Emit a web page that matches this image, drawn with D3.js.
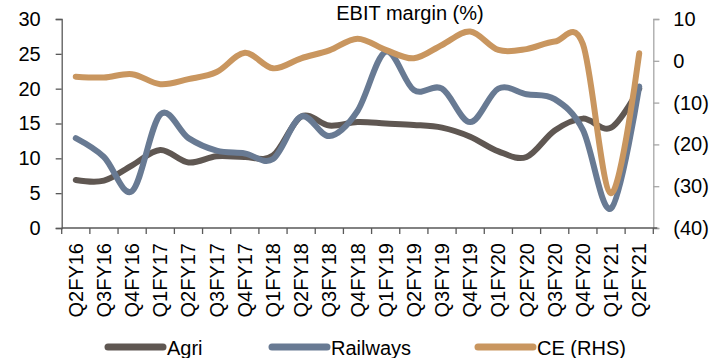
<!DOCTYPE html>
<html>
<head>
<meta charset="utf-8">
<script src="https://cdn.jsdelivr.net/npm/d3@7"></script>
<style>
  html, body { margin: 0; padding: 0; background: #fff; }
  svg text { font-family: Arial, "Liberation Sans", sans-serif; fill: #000; }
</style>
</head>
<body>
<svg id="chart" width="723" height="358"></svg>
<script>
// Quarterly EBIT margin by segment (%)
const categories = ["Q2FY16","Q3FY16","Q4FY16","Q1FY17","Q2FY17","Q3FY17","Q4FY17",
  "Q1FY18","Q2FY18","Q3FY18","Q4FY18","Q1FY19","Q2FY19","Q3FY19","Q4FY19",
  "Q1FY20","Q2FY20","Q3FY20","Q4FY20","Q1FY21","Q2FY21"];
const agri     = [6.9, 6.8, 9.0, 11.2, 9.4, 10.3, 10.2, 10.4, 16.0, 14.7, 15.2, 15.0, 14.8, 14.4, 13.1, 11.0, 10.2, 14.0, 15.7, 14.4, 20.0];
const railways = [12.9, 10.2, 5.3, 16.3, 12.9, 11.1, 10.7, 9.9, 16.0, 13.2, 16.8, 25.3, 19.8, 20.0, 15.2, 20.0, 19.2, 18.5, 14.1, 2.8, 20.3];
const ce       = [-3.8, -4.0, -3.2, -5.6, -4.4, -2.7, 1.9, -1.8, 0.6, 2.5, 5.3, 2.6, 0.6, 3.8, 7.0, 2.6, 2.8, 4.6, 4.0, -31.7, 1.8];
const leftTicks  = [0, 5, 10, 15, 20, 25, 30];
const rightTicks = [-40, -30, -20, -10, 0, 10];
const seriesNames = ["Agri", "Railways", "CE (RHS)"];
const seriesColors = ["#5f5752", "#687a93", "#c9965f"];

const svg = d3.select("#chart");
const plot = { left: 61.7, right: 653.3, top: 19, bottom: 228 };

const x = d3.scaleBand().domain(categories).range([plot.left, plot.right]).padding(0);
const yL = d3.scaleLinear().domain([0, 30]).range([plot.bottom, plot.top]);
const yR = d3.scaleLinear().domain([-40, 10]).range([plot.bottom, plot.top]);
const cx = c => x(c) + x.bandwidth() / 2;

// Left axis
const leftAxis = svg.append("g")
  .attr("transform", `translate(${plot.left},0)`)
  .call(d3.axisLeft(yL).tickValues(leftTicks).tickSize(6).tickPadding(15).tickFormat(d3.format("d")));
leftAxis.select(".domain").attr("stroke", "#595959").attr("stroke-width", 1.3);
leftAxis.selectAll(".tick line").attr("stroke", "#595959").attr("stroke-width", 1.3);
leftAxis.selectAll(".tick text").style("font-size", "20px").attr("fill", "#000");

// Right axis
const fmtR = v => v < 0 ? `(${Math.abs(v)})` : `${v}`;
const rightAxis = svg.append("g")
  .attr("transform", `translate(${plot.right},0)`)
  .call(d3.axisRight(yR).tickValues(rightTicks).tickSize(6).tickPadding(14).tickFormat(fmtR));
rightAxis.select(".domain").attr("stroke", "#a6a6a6").attr("stroke-width", 1.3);
rightAxis.selectAll(".tick line").attr("stroke", "#a6a6a6").attr("stroke-width", 1.3);
rightAxis.selectAll(".tick text").style("font-size", "20px").attr("fill", "#000");

// Category axis with ticks on band edges
const xAxis = svg.append("g").attr("transform", `translate(0,${plot.bottom})`);
xAxis.append("line")
  .attr("x1", plot.left).attr("x2", plot.right + 4)
  .attr("stroke", "#595959").attr("stroke-width", 1.3);
const edges = categories.map(c => x(c)).concat([plot.right]);
xAxis.selectAll("line.edge").data(edges).join("line")
  .attr("class", "edge")
  .attr("x1", d => d).attr("x2", d => d)
  .attr("y1", 0).attr("y2", 6)
  .attr("stroke", "#595959").attr("stroke-width", 1.3);
xAxis.selectAll("text").data(categories).join("text")
  .attr("transform", d => `translate(${cx(d) + 7},15) rotate(-90)`)
  .attr("text-anchor", "end")
  .style("font-size", "20px")
  .text(d => d);

// Series lines
const lineL = d3.line().x((d, i) => cx(categories[i])).y(d => yL(d)).curve(d3.curveCardinal.tension(0));
const lineR = d3.line().x((d, i) => cx(categories[i])).y(d => yR(d)).curve(d3.curveCardinal.tension(0));

const series = [
  { values: agri, gen: lineL },
  { values: railways, gen: lineL },
  { values: ce, gen: lineR }
];
svg.append("g").selectAll("path").data(series).join("path")
  .attr("d", s => s.gen(s.values))
  .attr("fill", "none")
  .attr("stroke", (s, i) => seriesColors[i])
  .attr("stroke-width", 6)
  .attr("stroke-linecap", "round")
  .attr("stroke-linejoin", "round");

// Title
svg.append("text")
  .attr("x", 410).attr("y", 20)
  .attr("text-anchor", "middle")
  .style("font-size", "20px")
  .text("EBIT margin (%)");

// Legend
const legendX = [108, 272, 478];
const legend = svg.append("g").selectAll("g").data(seriesNames).join("g")
  .attr("transform", (d, i) => `translate(${legendX[i]},347)`);
legend.append("line")
  .attr("x1", 0).attr("x2", 55).attr("y1", 0).attr("y2", 0)
  .attr("stroke", (d, i) => seriesColors[i])
  .attr("stroke-width", 7).attr("stroke-linecap", "round");
legend.append("text")
  .attr("x", 59).attr("y", 8)
  .style("font-size", "20px")
  .text(d => d);
</script>
</body>
</html>
